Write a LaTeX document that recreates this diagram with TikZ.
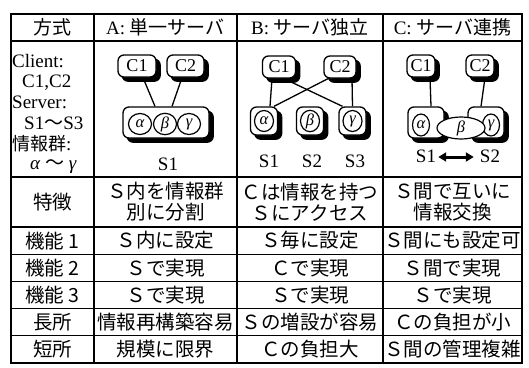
\documentclass[tikz,border=0pt]{standalone}
\usepackage{fontspec}
\setmainfont{Liberation Serif}
\newfontfamily\jp{Noto Sans CJK JP}
\usetikzlibrary{arrows.meta,shapes.geometric}
\begin{document}
\begin{tikzpicture}[x=1pt,y=-1pt,
  gridline/.style={line width=1.3pt},
  cell/.style={font=\jp\fontsize{19.5}{21}\selectfont, align=center, inner sep=0pt},
  hdr/.style={font=\fontsize{19}{21}\selectfont, inner sep=0pt},
  lc/.style={font=\fontsize{19}{19}\selectfont, inner sep=0pt, anchor=base west},
  shbox/.style={draw, line width=1.3pt, rounded corners=6pt, fill=white, inner sep=0pt,
     font=\fontsize{18}{18}\selectfont,
     preaction={fill=black, draw=black, line width=1.3pt,
                transform canvas={shift={(4.2,4.2)}}}},
  info/.style={draw, ellipse, line width=1.2pt, fill=white, inner sep=0pt,
     font=\fontsize{16.5}{16.5}\selectfont\itshape},
  lbl/.style={font=\fontsize{19}{19}\selectfont, inner sep=0pt, anchor=base},
  link/.style={line width=1.3pt},
]
\useasboundingbox (0,0) rectangle (529,367);
% ---- table grid ----
\draw[line width=1.6pt] (11,14) rectangle (522,363);
\foreach \x in {94,237,383} \draw[gridline] (\x,14) -- (\x,363);
\foreach \y in {41,177,227,254.2,281.4,308.6,335.8} \draw[gridline] (11,\y) -- (522,\y);
% ---- header ----
\node[hdr] (h0) at (52.5,27.5) {\jp 方式};
\node[hdr] (hA) at (165.5,27.5) {A: {\jp 単一サーバ}};
\node[hdr] (hB) at (310,27.5) {B: {\jp サーバ独立}};
\node[hdr] (hC) at (452.5,27.5) {C: {\jp サーバ連携}};
% ---- legend column ----
\node[lc] (l1) at (12,67) {Client:};
\node[lc] (l2) at (22,87) {C1,C2};
\node[lc] (l3) at (12,108) {Server:};
\node[lc] (l4) at (24,129) {S1{\jp ～}S3};
\node[lc] (l5) at (12,150) {{\jp\fontsize{18}{18}\selectfont 情報群}:};
\node[lc] (l6) at (30,169) {\textit{α} {\jp ～} \textit{γ}};
% ---- diagram A ----
\node[shbox, minimum width=38pt, minimum height=22pt] (A-c1) at (137,66) {C1};
\node[shbox, minimum width=37pt, minimum height=22pt] (A-c2) at (185.5,66) {C2};
\node[shbox, minimum width=86pt, minimum height=31pt] (A-s) at (166,122.5) {};
\node[info, minimum width=23pt, minimum height=21pt] (A-a) at (140,124) {α};
\node[info, minimum width=23pt, minimum height=21pt] (A-b) at (165,124) {β};
\node[info, minimum width=23pt, minimum height=21pt] (A-g) at (189,124) {γ};
\draw[link] ([xshift=6pt]A-c1.south) -- ([xshift=-11pt]A-s.north);
\draw[link] ([xshift=-3.5pt]A-c2.south) -- ([xshift=6pt]A-s.north);
\node[lbl] (A-l) at (168,170) {S1};
% ---- diagram B ----
\node[shbox, minimum width=33pt, minimum height=22pt] (B-c1) at (279,67) {C1};
\node[shbox, minimum width=32pt, minimum height=22pt] (B-c2) at (340,67) {C2};
\node[shbox, minimum width=27pt, minimum height=28pt] (B-s1) at (264,121) {};
\node[shbox, minimum width=27pt, minimum height=28pt] (B-s2) at (310,121) {};
\node[shbox, minimum width=27pt, minimum height=28pt] (B-s3) at (352.5,121) {};
\node[info, minimum width=19pt, minimum height=21pt] (B-a) at (B-s1) {α};
\node[info, minimum width=19pt, minimum height=21pt] (B-b) at (B-s2) {β};
\node[info, minimum width=19pt, minimum height=21pt] (B-g) at (B-s3) {γ};
\draw[link] ([xshift=-7pt]B-c1.south) -- ([xshift=6pt]B-s1.north);
\draw[link] ([xshift=5pt]B-c1.south) -- ([xshift=-10pt]B-s3.north);
\draw[link] ([xshift=-12pt]B-c2.south) -- ([xshift=10pt]B-s1.north);
\draw[link] ([xshift=12pt]B-c2.south) -- (B-s3.north);
\node[lbl] (B-l1) at (269,167) {S1};
\node[lbl] (B-l2) at (312,167) {S2};
\node[lbl] (B-l3) at (355,167) {S3};
% ---- diagram C ----
\node[shbox, minimum width=28pt, minimum height=22pt] (C-c1) at (421,66) {C1};
\node[shbox, minimum width=28pt, minimum height=22pt] (C-c2) at (480,66) {C2};
\node[shbox, minimum width=36pt, minimum height=31pt] (C-s1) at (426,122.5) {};
\node[shbox, minimum width=36pt, minimum height=31pt] (C-s2) at (486,122.5) {};
\node[info, minimum width=17pt, minimum height=22pt] (C-a) at (421,125) {α};
\node[info, minimum width=17pt, minimum height=22pt] (C-g) at (491,125) {γ};
\node[info, minimum width=48pt, minimum height=22pt] (C-b) at (461,128) {β};
\draw[link] ([xshift=9pt]C-c1.south) -- ([xshift=5pt]C-s1.north);
\draw[link] ([xshift=5pt]C-c2.south) -- ([xshift=-5pt]C-s2.north);
\node[lbl] (C-l1) at (426,162) {S1};
\node[lbl] (C-l2) at (490,162) {S2};
\draw[line width=3pt, {Triangle[length=8pt,width=9pt]}-{Triangle[length=8pt,width=9pt]}, shorten <=2pt, shorten >=6pt]
  ([yshift=5pt]C-l1.base east) -- ([yshift=5pt]C-l2.base west);
% ---- body rows ----
\node[cell] (r1a) at (52.5,202) {特徴};
\node[cell] (r1b) at (165.5,202) {Ｓ内を情報群\\別に分割};
\node[cell] (r1c) at (310,202) {Ｃは情報を持つ\\Ｓにアクセス};
\node[cell] (r1d) at (452.5,202) {Ｓ間で互いに\\情報交換};
\node[cell] (r2a) at (52.5,240.6) {機能 1};
\node[cell] (r2b) at (165.5,240.6) {Ｓ内に設定};
\node[cell] (r2c) at (310,240.6) {Ｓ毎に設定};
\node[cell] (r2d) at (452.5,240.6) {Ｓ間にも設定可};
\node[cell] (r3a) at (52.5,267.8) {機能 2};
\node[cell] (r3b) at (165.5,267.8) {Ｓで実現};
\node[cell] (r3c) at (310,267.8) {Ｃで実現};
\node[cell] (r3d) at (452.5,267.8) {Ｓ間で実現};
\node[cell] (r4a) at (52.5,295) {機能 3};
\node[cell] (r4b) at (165.5,295) {Ｓで実現};
\node[cell] (r4c) at (310,295) {Ｓで実現};
\node[cell] (r4d) at (452.5,295) {Ｓで実現};
\node[cell] (r5a) at (52.5,322.2) {長所};
\node[cell] (r5b) at (165.5,322.2) {情報再構築容易};
\node[cell] (r5c) at (310,322.2) {Ｓの増設が容易};
\node[cell] (r5d) at (452.5,322.2) {Ｃの負担が小};
\node[cell] (r6a) at (52.5,349.4) {短所};
\node[cell] (r6b) at (165.5,349.4) {規模に限界};
\node[cell] (r6c) at (310,349.4) {Ｃの負担大};
\node[cell] (r6d) at (452.5,349.4) {Ｓ間の管理複雑};
\end{tikzpicture}
\end{document}
